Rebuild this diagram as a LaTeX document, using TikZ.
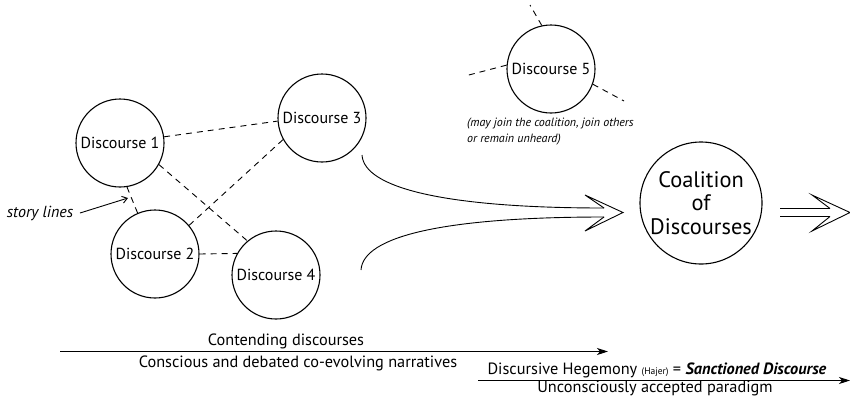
\documentclass[tikz,border=0pt]{standalone}
\usepackage{fontspec}
\setmainfont{PT Sans}
\usetikzlibrary{arrows.meta}
\begin{document}
\begin{tikzpicture}[x=1pt,y=-1pt,
  disc/.style={draw,circle,line width=1.1pt,minimum size=88pt,inner sep=0pt,font=\fontsize{16}{18}\selectfont},
  story/.style={line width=0.9pt,dash pattern=on 6pt off 5pt},
  flow/.style={line width=0.9pt},
  lbl/.style={inner sep=0pt,anchor=base,font=\fontsize{16.3}{18}\selectfont},
  timeline/.style={line width=1pt,-{Stealth[length=11pt,width=7pt,inset=3pt]}}]
\useasboundingbox (0,0) rectangle (850,402);

% discourses
\node[disc] (d1) at (120,143) {Discourse 1};
\node[disc] (d3) at (322,118) {Discourse 3};
\node[disc] (d2) at (155,254) {Discourse 2};
\node[disc] (d4) at (276,275) {Discourse 4};
\node[disc] (d5) at (551,69) {Discourse 5};
\node[draw,circle,line width=1.1pt,minimum size=122pt,inner sep=0pt,align=center,
      font=\fontsize{22.4}{23.5}\selectfont] (coal) at (701,203) {Coalition\\of\\Discourses};

% story lines between discourses
\draw[story] (d1.8) -- (d3.184);
\draw[story] (d1.-29) -- (d4.130);
\draw[story] (d1.-81) -- (d2.113);
\draw[story] (d2.40) -- (d3.209);
\draw[story] (d2.east) -- (d4.151.5);

% loose threads of discourse 5
\coordinate (t1) at (530,5);
\coordinate (t2) at (465,76);
\coordinate (t3) at (624,101);
\draw[story] (d5.102) -- (t1);
\draw[story] (d5.175) -- (t2);
\draw[story] (d5.-20) -- (t3);

\node[inner sep=0pt,anchor=base west,align=left,font=\fontsize{12}{15.5}\itshape\selectfont]
  (note) at (467,142) {(may join the coalition, join others\\or remain unheard)};

% story lines label
\node[inner sep=0pt,anchor=base,font=\fontsize{16}{18}\itshape\selectfont] (sl) at (40,217) {story lines};
\coordinate (slA) at (80,213);
\coordinate (slB) at (128,198);
\draw[line width=0.9pt,-{Straight Barb[length=5pt,width=7pt]}] (slA) -- (slB);

% converging flows into the coalition
\coordinate (u0) at (362,155);
\coordinate (u1) at (604,208);
\coordinate (l0) at (361,270);
\coordinate (l1) at (604,217);
\coordinate (h1a) at (585,195);
\coordinate (h1t) at (623,212.5);
\coordinate (h1b) at (585,231);
\draw[flow] (u0) .. controls (364,188) and (445,208) .. (u1);
\draw[flow] (l0) .. controls (363,236) and (445,217) .. (l1);
\draw[flow,line join=miter] (u1) -- (h1a) -- (h1t) -- (h1b) -- (l1);

% outgoing double arrow
\coordinate (r0a) at (780,208.5);
\coordinate (r0b) at (780,216.5);
\coordinate (r1a) at (830,208.5);
\coordinate (r1b) at (830,216.5);
\coordinate (h2a) at (812,195);
\coordinate (h2t) at (850,212.5);
\coordinate (h2b) at (812,231);
\draw[flow] (r0a) -- (r1a);
\draw[flow] (r0b) -- (r1b);
\draw[flow,line join=miter] (r1a) -- (h2a) -- (h2t) -- (h2b) -- (r1b);

% time lines
\coordinate (a0) at (60,351.5);
\coordinate (a1) at (608,351.5);
\coordinate (b0) at (478,380.5);
\coordinate (b1) at (850,380.5);
\draw[timeline] (a0) -- (a1);
\draw[timeline] (b0) -- (b1);
\node[lbl] (c1) at (286,345) {Contending discourses};
\node[lbl] (c2) at (298,367.5) {Conscious and debated co-evolving narratives};
\node[lbl] (h1) at (657,374) {Discursive Hegemony {\fontsize{9.5}{10}\selectfont(Hajer)} = \textbf{\textit{Sanctioned Discourse}}};
\node[lbl] (h2) at (655,392) {Unconsciously accepted paradigm};
\end{tikzpicture}
\end{document}
